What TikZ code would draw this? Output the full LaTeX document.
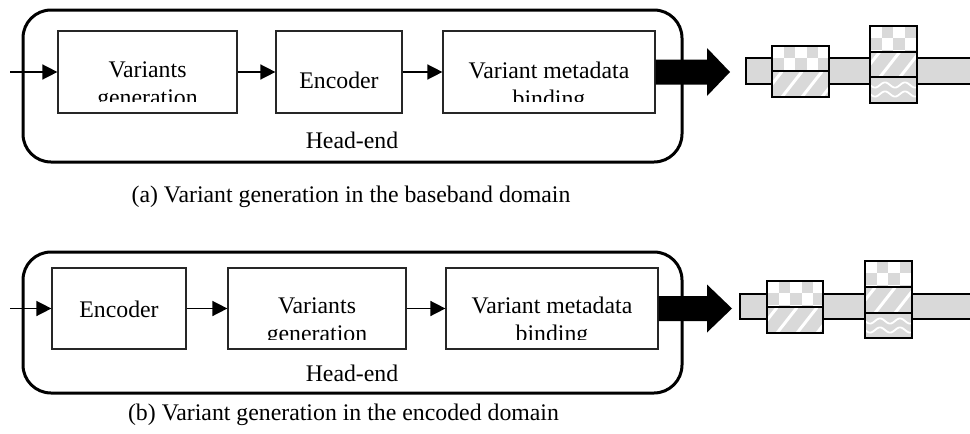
\documentclass[tikz,border=0pt]{standalone}
\usepackage{fontspec}
\setmainfont{Liberation Serif}
\usetikzlibrary{arrows.meta,calc}
\definecolor{cgray}{HTML}{D9D9D9}
\definecolor{boxline}{HTML}{262626}
\newcommand{\mychecker}[4]{% x1 y1 x2 y2
  \begin{scope}
    \clip (#1,#2) rectangle (#3,#4);
    \fill[white] (#1,#2) rectangle (#3,#4);
    \foreach \i in {0,...,5}{\foreach \j in {0,...,3}{%
      \pgfmathtruncatemacro\pp{mod(\i+\j,2)}%
      \ifnum\pp=1 \fill[cgray] ({#1+\i*11.5},{#2+\j*12}) rectangle ++(11.5,12);\fi}}
  \end{scope}
  \draw[black,line width=1.2pt] (#1,#2) rectangle (#3,#4);}
\newcommand{\mystripes}[4]{%
  \begin{scope}
    \clip (#1,#2) rectangle (#3,#4);
    \fill[cgray] (#1,#2) rectangle (#3,#4);
    \foreach \k in {-30,-10,...,70}{\draw[white,line width=3pt] ({#1+\k},#4) -- ++(20,-25.5);}
  \end{scope}
  \draw[black,line width=1.2pt] (#1,#2) rectangle (#3,#4);}
\newcommand{\mywaves}[4]{%
  \begin{scope}
    \clip (#1,#2) rectangle (#3,#4);
    \fill[cgray] (#1,#2) rectangle (#3,#4);
    \foreach \r in {8,17}{\draw[white,line width=1.8pt] plot[domain=0:60,samples=60,smooth] ({#1+\x},{#2+\r+2.6*sin(\x*18)});}
  \end{scope}
  \draw[black,line width=1.2pt] (#1,#2) rectangle (#3,#4);}
\begin{document}
\begin{tikzpicture}[x=1pt,y=-1pt,
  every node/.style={font=\fontsize{23.8}{27}\selectfont, inner sep=0pt},
  blk/.style={draw=boxline, line width=1.2pt, fill=none},
  headend/.style={draw=black, line width=3pt, rounded corners=28pt},
  flow/.style={line width=1.5pt, -{Triangle[length=15pt,width=15pt]}},
  bigarrow/.style={fill=black},
  strip/.style={fill=cgray}]
\useasboundingbox (0,0) rectangle (970,434);

% ===================== (a) =====================
\node[headend, minimum width=659pt, minimum height=152pt] (hA) at (352.5,86) {};
\node[blk, minimum width=179pt, minimum height=82pt] (a1) at (147.5,72) {};
\node[blk, minimum width=126pt, minimum height=82pt] (a2) at (339,72) {};
\node[blk, minimum width=212pt, minimum height=82pt] (a3) at (549,72) {};
\begin{scope}
  \clip (58,31) rectangle (237,101);
  \node[anchor=base] (a1t) at (147.5,77) {Variants};
  \node[anchor=base] (a1u) at (147.5,105) {generation};
\end{scope}
\node[anchor=base] (a2t) at (339,88) {Encoder};
\begin{scope}
  \clip (443,31) rectangle (655,101);
  \node[anchor=base] (a3t) at (549,78) {Variant metadata};
  \node[anchor=base] (a3u) at (549,106) {binding};
\end{scope}
\node[anchor=base] (hAt) at (352,148) {Head-end};
\coordinate (inA) at (10,72);
\draw[flow] (inA) -- (a1.west);
\draw[flow] (a1.east) -- (a2.west);
\draw[flow] (a2.east) -- (a3.west);
\coordinate (tipA) at (730,72);
\fill[bigarrow] ($(a3.east)+(0,-12.5)$) -- (707,59.5) -- (707,48) -- (tipA) -- (707,96) -- (707,84.5) -- ($(a3.east)+(0,12.5)$) -- cycle;
% stream
\fill[strip] (746,58) rectangle (972,84);
\draw[line width=1.2pt] (972,58) -- (746,58) -- (746,84) -- (972,84);
\mychecker{772}{46}{829}{71}
\mystripes{772}{71}{829}{97}
\mychecker{870}{26}{917}{52}
\mystripes{870}{52}{917}{77}
\mywaves{870}{77}{917}{103}
\node[anchor=base] (capA) at (351,202) {(a) Variant generation in the baseband domain};

% ===================== (b) =====================
\node[headend, minimum width=659pt, minimum height=141pt] (hB) at (352.5,322.5) {};
\node[blk, minimum width=134pt, minimum height=81pt] (b1) at (119,308.5) {};
\node[blk, minimum width=178pt, minimum height=81pt] (b2) at (317,308.5) {};
\node[blk, minimum width=212pt, minimum height=81pt] (b3) at (552,308.5) {};
\node[anchor=base] (b1t) at (119,317) {Encoder};
\begin{scope}
  \clip (228,268) rectangle (406,339);
  \node[anchor=base] (b2t) at (317,313) {Variants};
  \node[anchor=base] (b2u) at (317,341) {generation};
\end{scope}
\begin{scope}
  \clip (446,268) rectangle (658,339);
  \node[anchor=base] (b3t) at (552,313) {Variant metadata};
  \node[anchor=base] (b3u) at (552,341) {binding};
\end{scope}
\node[anchor=base] (hBt) at (352,381) {Head-end};
\coordinate (inB) at (10,308.5);
\draw[flow] (inB) -- (b1.west);
\draw[flow] (b1.east) -- (b2.west);
\draw[flow] (b2.east) -- (b3.west);
\coordinate (tipB) at (732,308.5);
\fill[bigarrow] ($(b3.east)+(0,-12.5)$) -- (707,296) -- (707,284.5) -- (tipB) -- (707,332.5) -- (707,321) -- ($(b3.east)+(0,12.5)$) -- cycle;
\fill[strip] (740,294) rectangle (972,319);
\draw[line width=1.2pt] (972,294) -- (740,294) -- (740,319) -- (972,319);
\mychecker{767}{281}{823}{307}
\mystripes{767}{307}{823}{333}
\mychecker{865}{261}{912}{287}
\mystripes{865}{287}{912}{313}
\mywaves{865}{313}{912}{338}
\node[anchor=base] (capB) at (343.5,420) {(b) Variant generation in the encoded domain};
\end{tikzpicture}
\end{document}
